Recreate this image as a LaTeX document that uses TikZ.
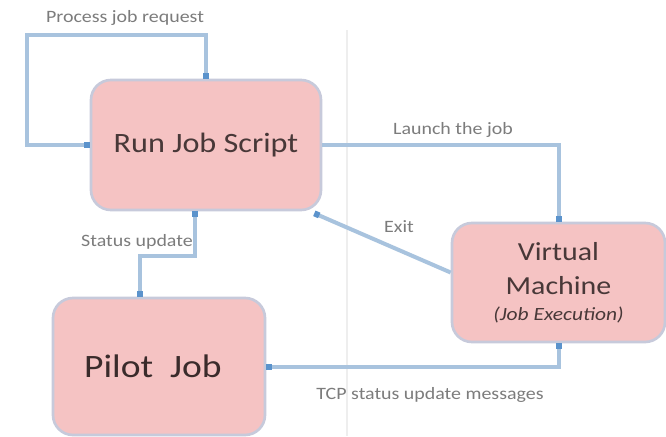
\documentclass[tikz,border=0pt]{standalone}
\usepackage{fontspec}
\setmainfont{Carlito}[FakeStretch=1.15]
\usetikzlibrary{arrows.meta,calc}
\definecolor{boxfill}{HTML}{F5C3C3}
\definecolor{boxline}{HTML}{C7CADB}
\definecolor{boxtext}{HTML}{483838}
\definecolor{darktext}{HTML}{3A2B2B}
\definecolor{wire}{HTML}{A8C3DE}
\definecolor{tipblue}{HTML}{5B93CC}
\definecolor{labelgray}{HTML}{7C7C7C}
\definecolor{divider}{HTML}{EEEEEE}
\tikzset{
  stagebox/.style={draw=boxline, line width=2pt, fill=boxfill, rounded corners=15pt,
    text=boxtext, align=center, inner sep=0pt},
  wirearrow/.style={draw=wire, line width=3pt,
    arrows={-{Square[length=4pt,width=4.5pt,color=tipblue]}}},
  wireboth/.style={draw=wire, line width=3pt,
    arrows={{Square[length=4pt,width=4.5pt,color=tipblue]}-{Square[length=4pt,width=4.5pt,color=tipblue]}}},
  flowlabel/.style={text=labelgray, font=\fontsize{13}{15}\selectfont, inner sep=1pt}
}
\begin{document}
\begin{tikzpicture}[x=0.75pt, y=-0.75pt]
  \useasboundingbox (0,0) rectangle (666,436);
  \fill[white] (0,0) rectangle (666,436);

  % faint divider between the two sides
  \draw[divider, line width=1.5pt] (347,30) coordinate (dtop) -- (347,436) coordinate (dbot);

  % stages
  \node[stagebox, minimum width=172.5pt, minimum height=97.5pt,
        font=\fontsize{21}{25}\selectfont] (run) at (206,145) {Run Job Script};
  \node[stagebox, minimum width=159.75pt, minimum height=89.25pt,
        font=\fontsize{19.5}{25.5}\selectfont] (vm) at (558.5,282.5)
        {Virtual\\Machine\\[-6pt]{\fontsize{14}{17}\selectfont\itshape (Job Execution)}};
  \node[stagebox, minimum width=159pt, minimum height=102.75pt, text=darktext,
        font=\fontsize{24.5}{29}\selectfont] (pilot) at (159,366.5) {Pilot\ \ Job\hspace{9pt}};

  % connectors
  \draw[wireboth] (run.west) -- ++(-63,0) -- ++(0,-110) -| (run.north);
  \draw[wirearrow] (run.east) -| (vm.north);
  \draw[wirearrow] ($(vm.west)+(0,-10)$) -- ($(run.south east)+(-8,2)$);
  \draw[wireboth] ($(run.south)+(-11,0)$) -- ++(0,45) -| ($(pilot.north)+(-19,0)$);
  \draw[wireboth] (pilot.east) -| (vm.south);

  % connector labels
  \node[flowlabel] (lproc) at (125,18) {Process job request};
  \node[flowlabel] (llaunch) at (453,130) {Launch the job};
  \node[flowlabel] (lexit) at (399,227) {Exit};
  \node[flowlabel] (lstatus) at (137,242) {Status update};
  \node[flowlabel] (ltcp) at (430,395) {TCP status update messages};
\end{tikzpicture}
\end{document}
